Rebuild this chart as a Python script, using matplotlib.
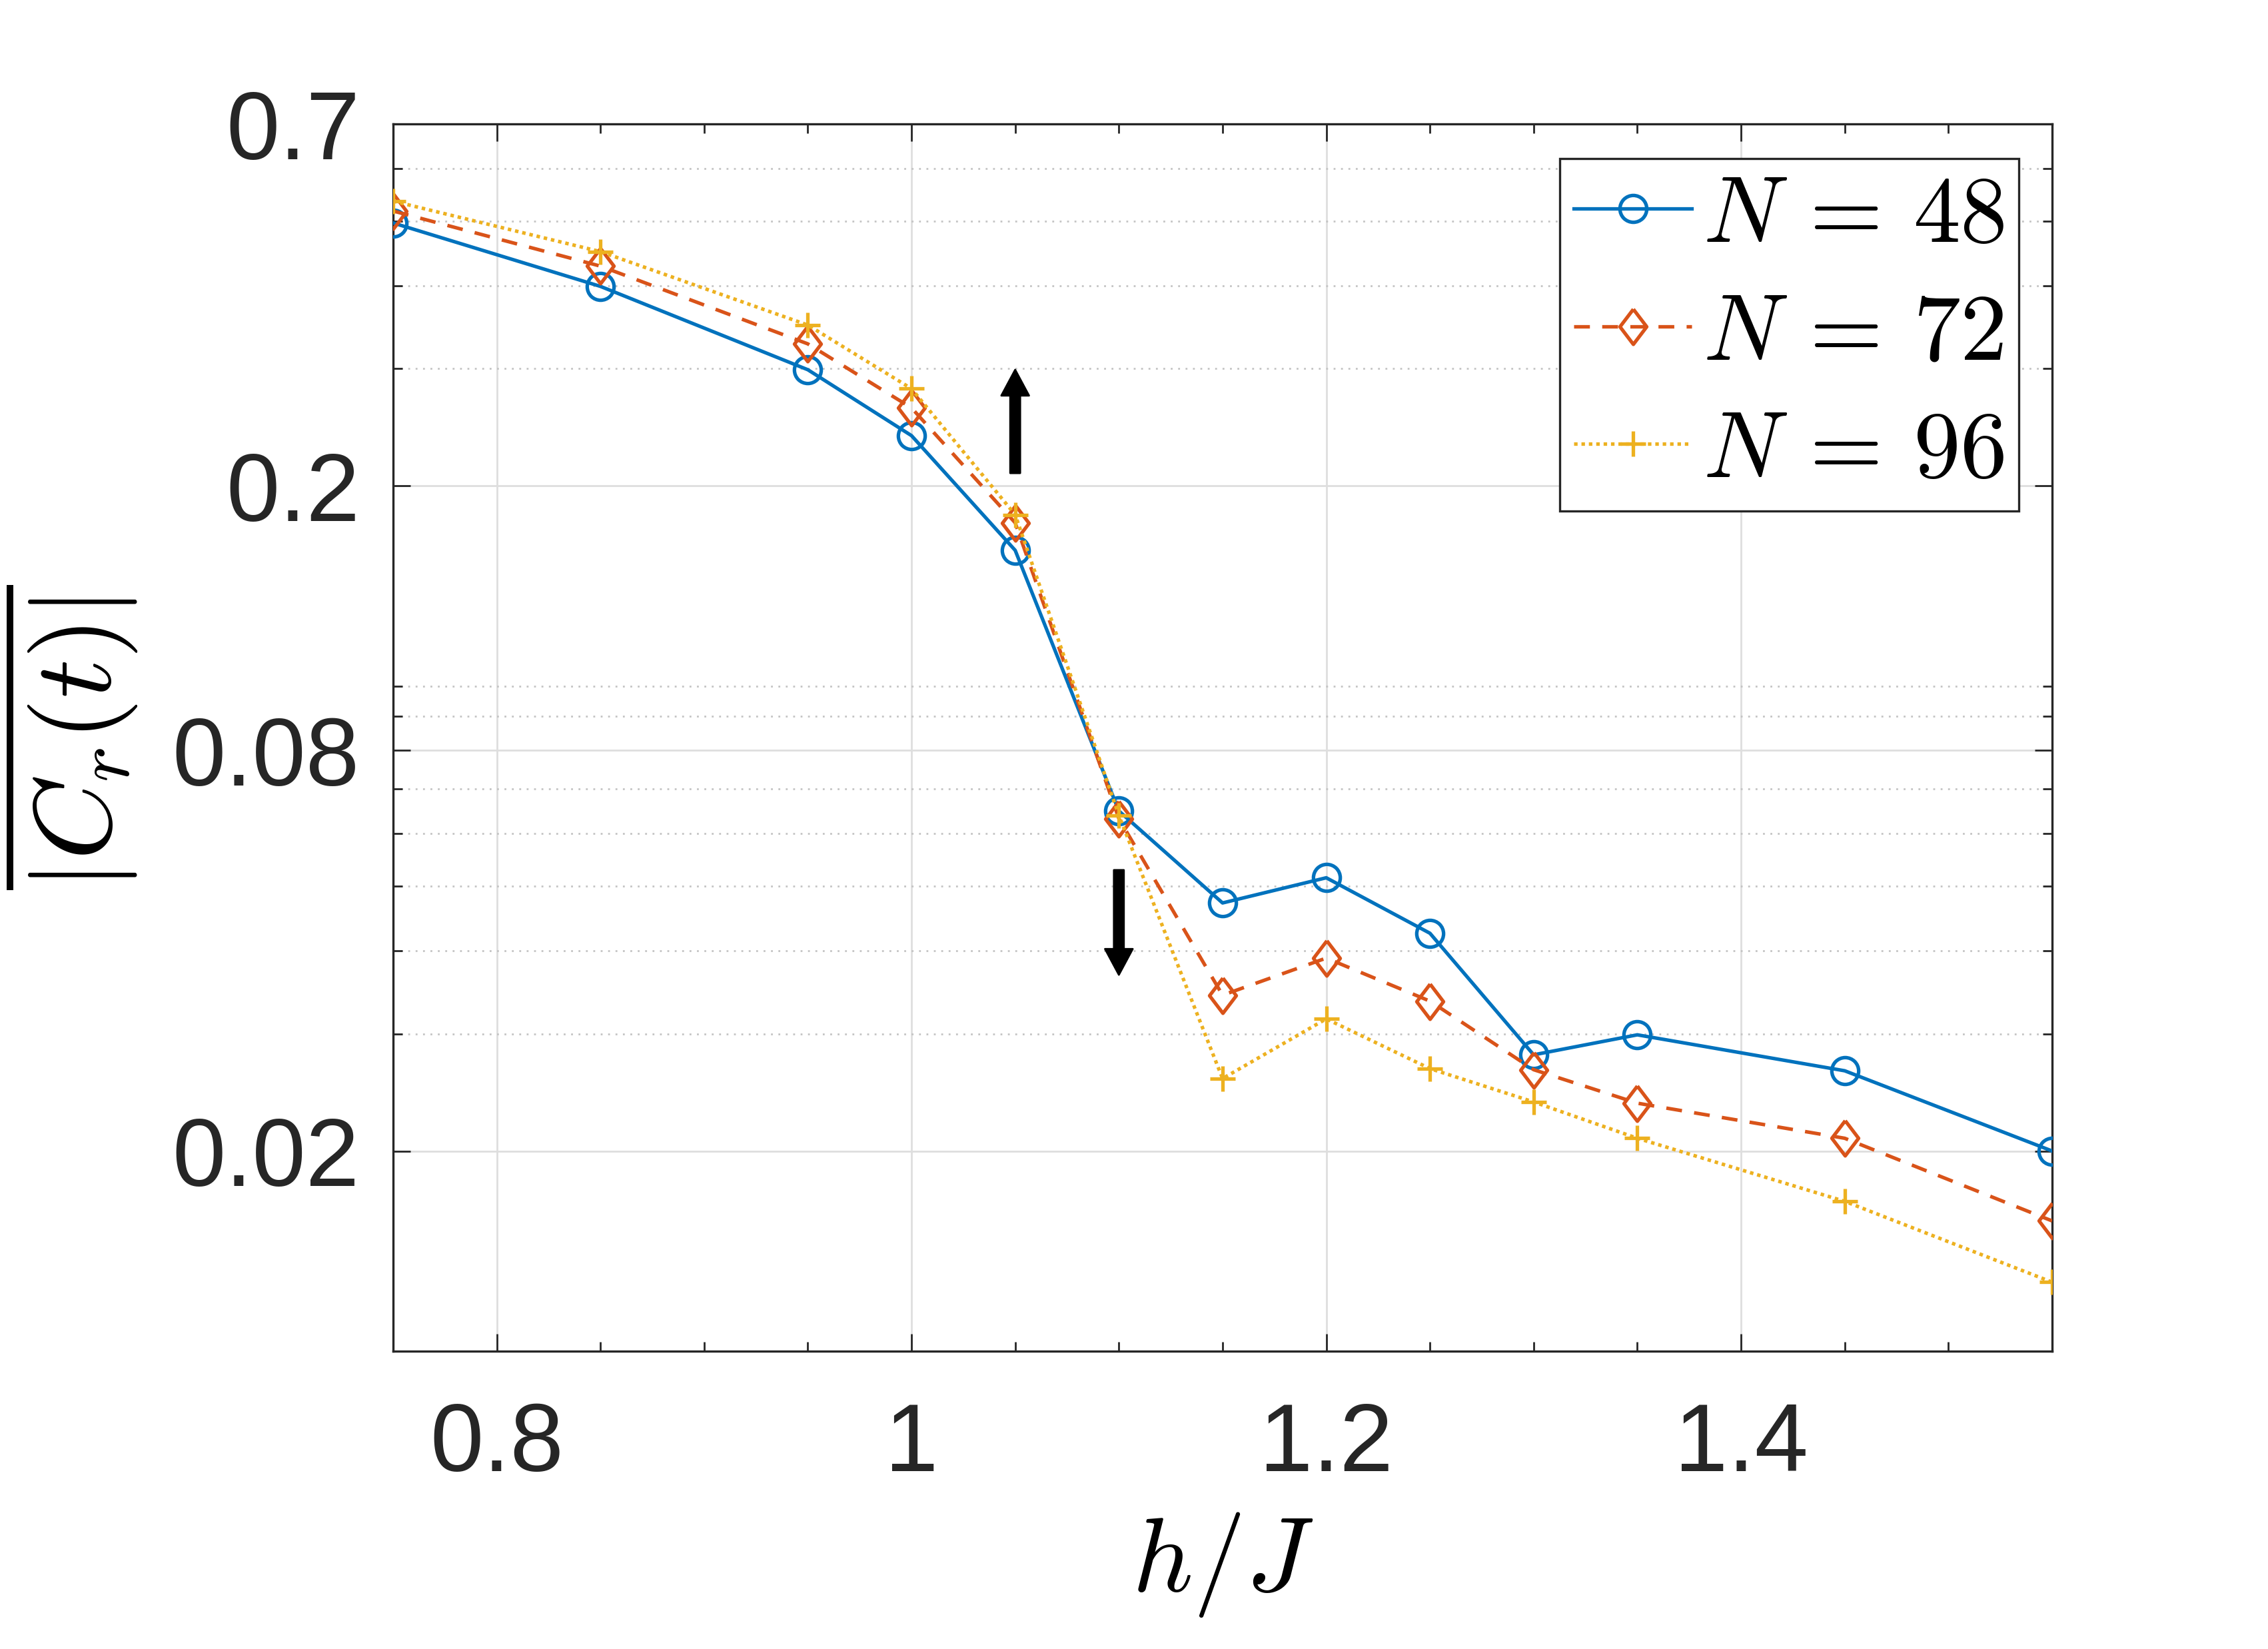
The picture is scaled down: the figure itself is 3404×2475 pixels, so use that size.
import numpy as np
import matplotlib
matplotlib.use('Agg')
import matplotlib.pyplot as plt
from matplotlib.ticker import FixedLocator, NullFormatter
from matplotlib.patches import FancyArrowPatch

# data
h_over_J = [0.75, 0.85, 0.95, 1.0, 1.05, 1.1, 1.15, 1.2, 1.25, 1.3, 1.35, 1.45, 1.55]
c_48 = [0.497, 0.399, 0.299, 0.238, 0.160, 0.0649, 0.0472, 0.0515, 0.0425, 0.0279, 0.0299, 0.0264, 0.0200]
c_72 = [0.518, 0.428, 0.327, 0.262, 0.176, 0.0632, 0.0343, 0.0390, 0.0336, 0.0265, 0.0236, 0.0209, 0.0157]
c_96 = [0.536, 0.450, 0.349, 0.280, 0.181, 0.0639, 0.0257, 0.0316, 0.0266, 0.0237, 0.0209, 0.0168, 0.0127]
labels = [r'$N\,=\,48$', r'$N\,=\,72$', r'$N\,=\,96$']

y_ticks = [0.02, 0.08, 0.2, 0.7]
y_ticklabels = ['0.02', '0.08', '0.2', '0.7']
y_minor = [0.03, 0.04, 0.05, 0.06, 0.07, 0.09, 0.1, 0.3, 0.4, 0.5, 0.6]
x_ticks = [0.8, 1.0, 1.2, 1.4]
x_ticklabels = ['0.8', '1', '1.2', '1.4']

# MATLAB default colours
blue = '#0072BD'
red = '#D95319'
yellow = '#EDB120'
axcol = '#262626'

plt.rcParams['mathtext.fontset'] = 'cm'
plt.rcParams['font.family'] = ['Liberation Sans', 'DejaVu Sans']

fig = plt.figure(figsize=(17.02, 12.375), dpi=200)
ax = fig.add_axes([0.1733, 0.1806, 0.9048 - 0.1733, 0.9248 - 0.1806])

lw = 1.9
ax.plot(h_over_J, c_48, '-', color=blue, lw=lw, marker='o', ms=14.5,
        mfc='none', mec=blue, mew=lw, label=labels[0], zorder=3)
diamond = [(0, 1), (0.76, 0), (0, -1), (-0.76, 0), (0, 1)]
ax.plot(h_over_J, c_72, color=red, lw=lw, ls=(0, (4.5, 3.5)), marker=diamond, ms=19,
        mfc='none', mec=red, mew=lw, label=labels[1], zorder=4)
ax.plot(h_over_J, c_96, color=yellow, lw=lw, ls=(0, (1, 1.1)), marker='+', ms=14,
        mec=yellow, mew=lw, label=labels[2], zorder=5)

ax.set_yscale('log')
ax.set_xlim(0.75, 1.55)
ax.set_ylim(0.01, 0.7)

ax.set_xticks(x_ticks)
ax.set_xticklabels(x_ticklabels)
ax.xaxis.set_minor_locator(FixedLocator(np.arange(0.75, 1.551, 0.05)))
ax.set_yticks(y_ticks)
ax.set_yticklabels(y_ticklabels)
ax.yaxis.set_minor_locator(FixedLocator(y_minor))
ax.yaxis.set_minor_formatter(NullFormatter())

ax.tick_params(which='both', direction='in', top=True, right=True, color=axcol, width=1.0)
ax.tick_params(which='major', length=9.5)
ax.tick_params(which='minor', length=5)
ax.tick_params(axis='x', which='major', labelsize=52, pad=27, labelcolor=axcol)
ax.tick_params(axis='y', which='major', labelsize=52, pad=18, labelcolor=axcol)

ax.grid(which='major', color='#dedede', lw=1.0, ls='-')
ax.yaxis.grid(which='minor', color='#c4c4c4', lw=1.0, ls=(0, (1, 3)))
ax.set_axisbelow(True)
for s in ax.spines.values():
    s.set_color(axcol)
    s.set_linewidth(1.2)

ax.set_xlabel(r'$h/J$', fontsize=57)
ax.xaxis.set_label_coords(0.5, -0.13)
ax.set_ylabel(r'$\overline{|C_r(t)|}$', fontsize=59)
ax.yaxis.set_label_coords(-0.153, 0.5)

# arrows
for (x0, y0, y1) in [(1.05, 0.209, 0.299), (1.1, 0.0529, 0.0368)]:
    arr = FancyArrowPatch((x0, y0), (x0, y1),
                          arrowstyle='simple,head_length=14,head_width=15,tail_width=5.4',
                          mutation_scale=1, color='k', shrinkA=0, shrinkB=0, zorder=6)
    ax.add_patch(arr)

leg = ax.legend(loc='upper right', bbox_to_anchor=(0.980, 0.972), borderaxespad=0,
                fontsize=51, handlelength=1.25, handletextpad=0.12, labelspacing=0.3,
                borderpad=0.15, fancybox=False, framealpha=1)
leg.get_frame().set_edgecolor(axcol)
leg.get_frame().set_linewidth(1.2)

fig.savefig('out.png', dpi=200, facecolor='white')
